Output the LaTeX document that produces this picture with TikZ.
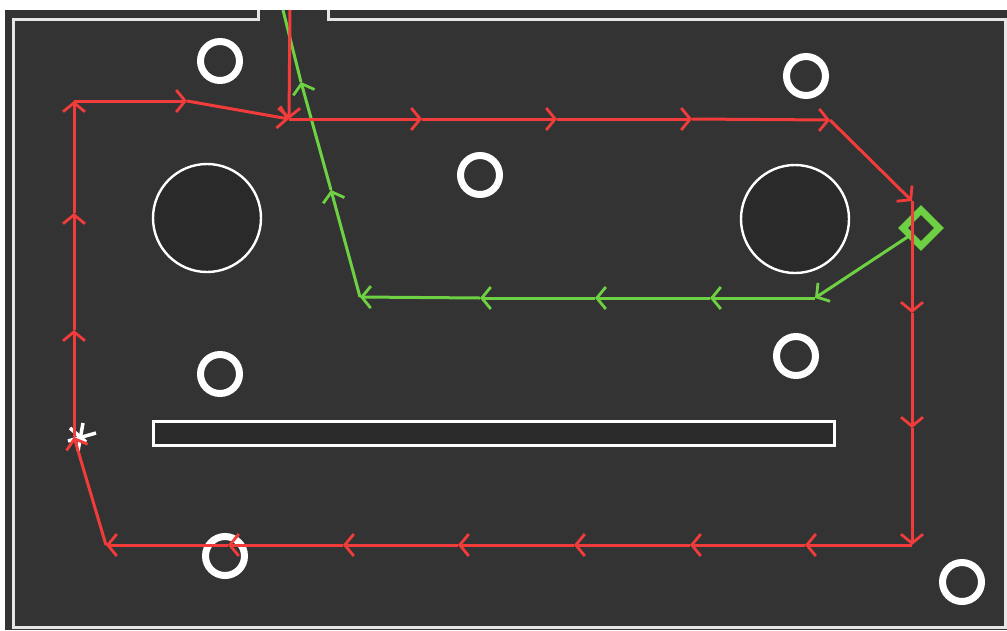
\documentclass[tikz,border=0pt]{standalone}
\usetikzlibrary{arrows.meta}
\definecolor{bgdark}{HTML}{333333}
\definecolor{holefill}{HTML}{2A2A2A}
\definecolor{wallc}{HTML}{E6E6E6}
\definecolor{redp}{HTML}{F23B3B}
\definecolor{greenp}{HTML}{6ED043}
\tikzset{
  wall/.style={draw=wallc, line width=3pt},
  pillar/.style={draw=white, line width=7pt},
  hole/.style={draw=white, fill=holefill, line width=2.4pt},
  chev/.style={-{Straight Barb[length=9pt,width=22pt,line width=2.8pt]}},
  redseg/.style={draw=redp, line width=3pt, chev},
  redplain/.style={draw=redp, line width=3pt},
  greenseg/.style={draw=greenp, line width=3pt, chev},
  greenplain/.style={draw=greenp, line width=3pt},
}
\begin{document}
\begin{tikzpicture}[x=1pt,y=-1pt]
\useasboundingbox (0,0) rectangle (1007,630);
\fill[white] (0,0) rectangle (1007,630);
\fill[bgdark] (5,10) rectangle (1007,630);
% walls
\draw[wall] (258,10) -- (258,19) -- (13,19) -- (13,627) -- (1005,627) -- (1005,19) -- (328,19) -- (328,10);
% holes
\draw[hole] (207,218) circle (54);
\draw[hole] (795,219) circle (54);
\draw[hole, line width=3pt] (153,421) rectangle (834,445);
% pillars
\foreach \p in {(220,61),(806,76),(480,175),(220,374),(796,356),(225,556),(962,582)}
  \draw[pillar] \p circle (19.5);
% green diamond
\draw[greenp, line width=7pt] (921,210) -- (939,228) -- (921,246) -- (903,228) -- cycle;
% green path coordinates
\coordinate (gd) at (909,236);
\coordinate (g1) at (815,298);
\coordinate (g2) at (710,298);
\coordinate (g3) at (595,298);
\coordinate (g4) at (480,298);
\coordinate (g5) at (360,297);
\coordinate (g6) at (331,190);
\coordinate (g7) at (301,82);
\coordinate (gt) at (283,10);
\draw[greenseg] (gd) -- (g1);
\draw[greenseg] (g1) -- (g2);
\draw[greenseg] (g2) -- (g3);
\draw[greenseg] (g3) -- (g4);
\draw[greenseg] (g4) -- (g5);
\draw[greenseg] (g5) -- (g6);
\draw[greenseg] (g6) -- (g7);
\draw[greenplain] (g7) -- (gt);
% start marker
\draw[white, line width=3.5pt] (83,423) -- (78,451);
\draw[white, line width=3.5pt] (68,441) -- (96,433);
\draw[white, line width=3.5pt] (70,428) -- (86,442);
% red path coordinates
\coordinate (s) at (74,437);
\coordinate (r1) at (74,330);
\coordinate (r2) at (74,213);
\coordinate (r3) at (74,101);
\coordinate (r4) at (187,101);
\coordinate (j) at (289,119);
\coordinate (rt) at (290,10);
\coordinate (r5) at (422,119);
\coordinate (r6) at (557,119);
\coordinate (r7) at (692,119);
\coordinate (r8) at (830,120);
\coordinate (r9) at (912,201);
\coordinate (r10) at (912,313);
\coordinate (r11) at (912,428);
\coordinate (r12) at (912,545);
\coordinate (b1) at (805,545);
\coordinate (b2) at (690,545);
\coordinate (b3) at (574,545);
\coordinate (b4) at (458,545);
\coordinate (b5) at (343,545);
\coordinate (b6) at (228,545);
\coordinate (b7) at (106,545);
\draw[redseg] (s) -- (r1);
\draw[redseg] (r1) -- (r2);
\draw[redseg] (r2) -- (r3);
\draw[redseg] (r3) -- (r4);
\draw[redseg] (r4) -- (j);
\draw[redseg] (rt) -- (j);
\draw[redseg] (j) -- (r5);
\draw[redseg] (r5) -- (r6);
\draw[redseg] (r6) -- (r7);
\draw[redseg] (r7) -- (r8);
\draw[redseg] (r8) -- (r9);
\draw[redseg] (r9) -- (r10);
\draw[redseg] (r10) -- (r11);
\draw[redseg] (r11) -- (r12);
\draw[redseg] (r12) -- (b1);
\draw[redseg] (b1) -- (b2);
\draw[redseg] (b2) -- (b3);
\draw[redseg] (b3) -- (b4);
\draw[redseg] (b4) -- (b5);
\draw[redseg] (b5) -- (b6);
\draw[redseg] (b6) -- (b7);
\draw[redseg] (b7) -- (s);
\end{tikzpicture}
\end{document}
